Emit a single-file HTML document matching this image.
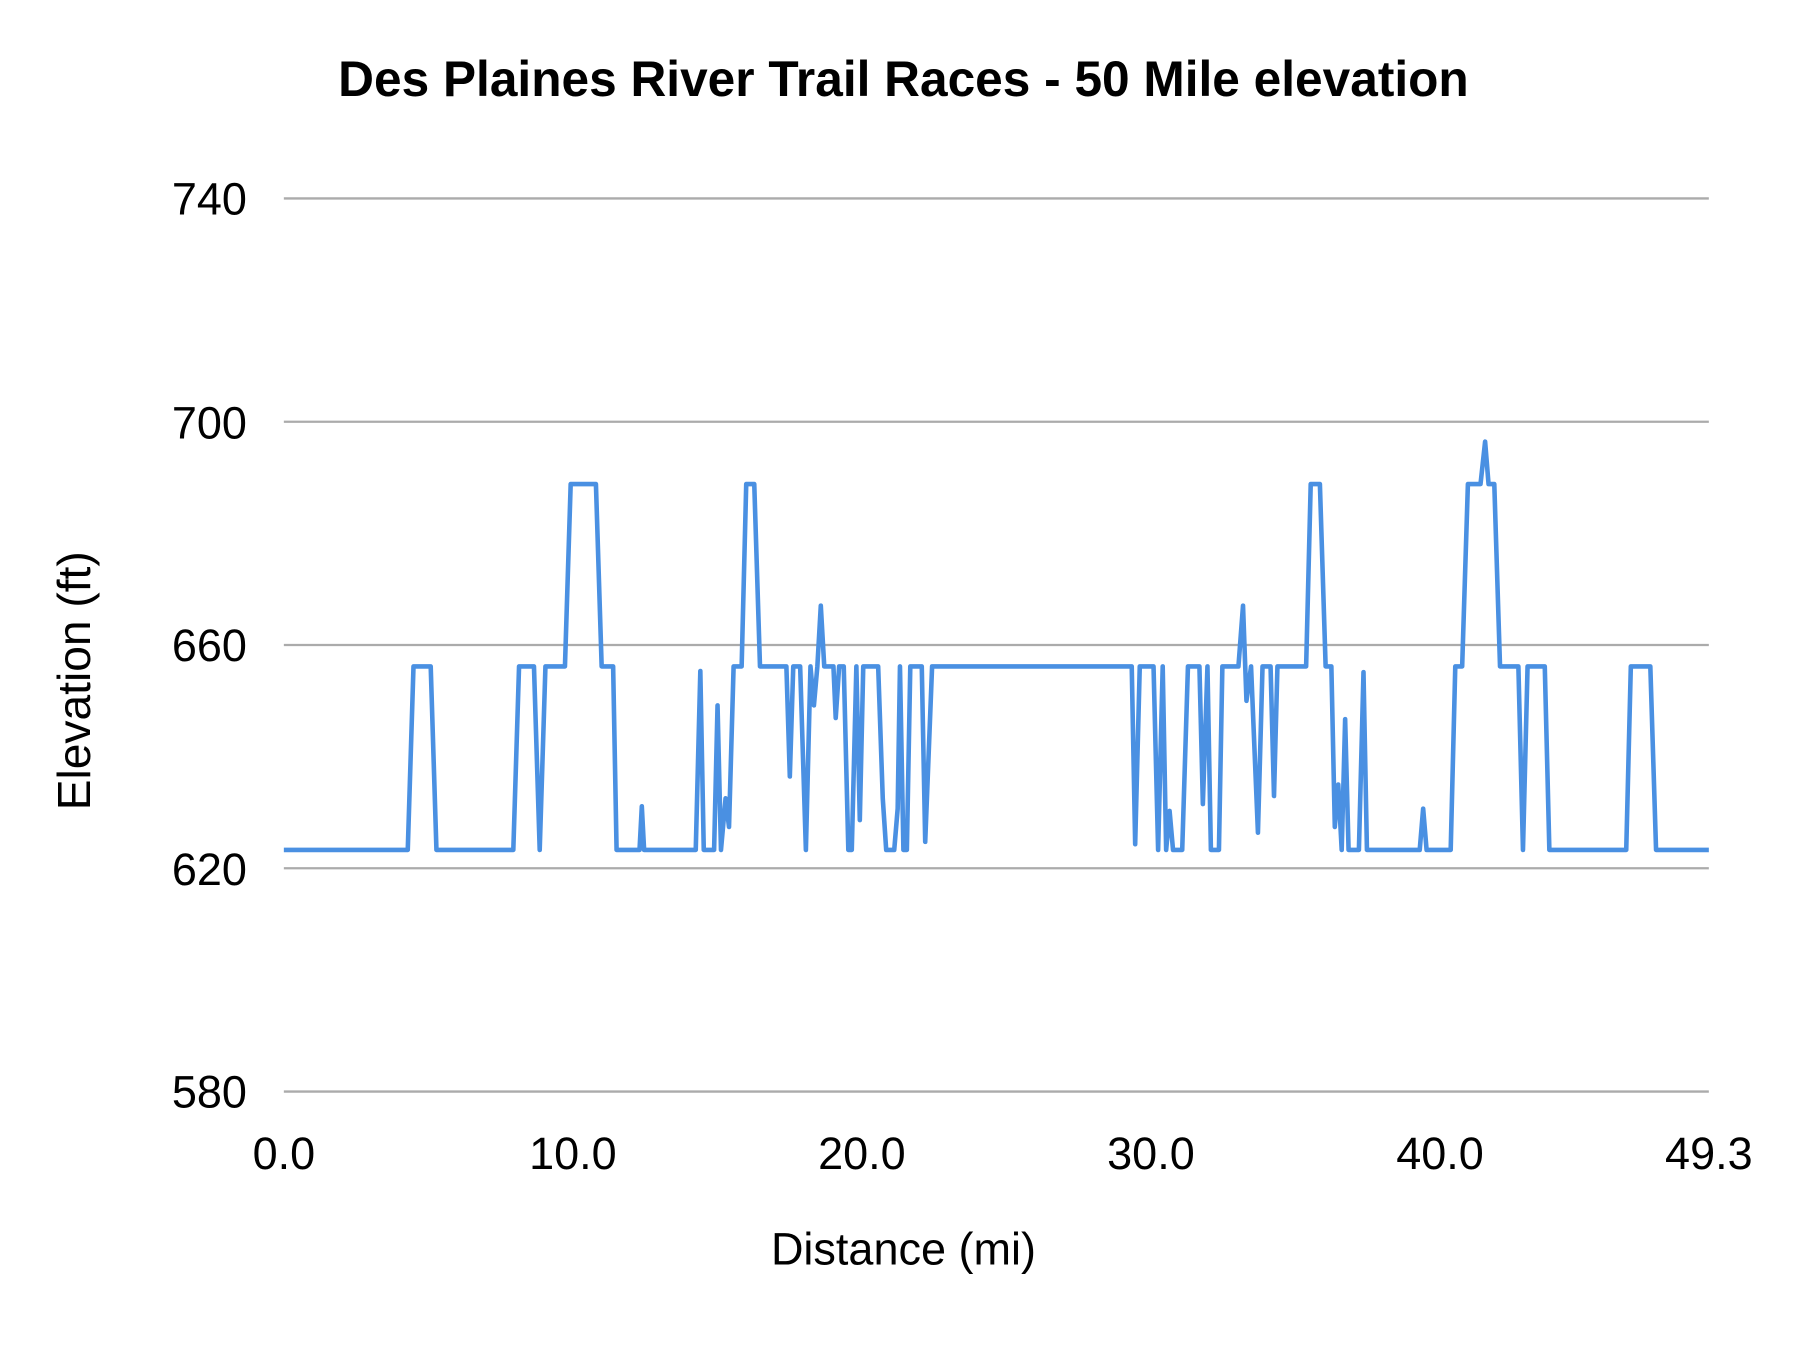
<!DOCTYPE html>
<html><head><style>
html,body{margin:0;padding:0;background:#fff;}
svg{display:block;}
text{font-family:"Liberation Sans",Roboto,sans-serif;}
</style></head><body>
<svg width="1800" height="1350" viewBox="0 0 1560 1170" xmlns="http://www.w3.org/2000/svg">
<rect width="1560" height="1170" fill="#fff"/>
<text x="783" y="83" text-anchor="middle" font-size="43" font-weight="bold" fill="#000">Des Plaines River Trail Races - 50 Mile elevation</text>
<g stroke="#ababab" stroke-width="2">
<line x1="246" y1="172" x2="1481" y2="172"/>
<line x1="246" y1="365.5" x2="1481" y2="365.5"/>
<line x1="246" y1="559" x2="1481" y2="559"/>
<line x1="246" y1="752.5" x2="1481" y2="752.5"/>
<line x1="246" y1="946" x2="1481" y2="946"/>
</g>
<g font-size="39" fill="#000" text-anchor="end">
<text x="214" y="186">740</text>
<text x="214" y="380">700</text>
<text x="214" y="573">660</text>
<text x="214" y="767">620</text>
<text x="214" y="960">580</text>
</g>
<g font-size="39" fill="#000" text-anchor="middle">
<text x="246" y="1013">0.0</text>
<text x="496.5" y="1013">10.0</text>
<text x="747" y="1013">20.0</text>
<text x="997.5" y="1013">30.0</text>
<text x="1248" y="1013">40.0</text>
<text x="1481" y="1013">49.3</text>
<text x="783" y="1096">Distance (mi)</text>
</g>
<text transform="translate(78,590) rotate(-90)" font-size="40" text-anchor="middle" fill="#000">Elevation (ft)</text>
<path transform="translate(0.393,1.03) scale(0.99436,0.994)" fill="none" stroke="#4a90e2" stroke-width="4" stroke-linejoin="round" d="M247,740 H355 L360,580 H375 L380,740 H447 L452,580 H465 L470,740 L475,580 H492 L497,421 H519 L524,580 H534 L537,740 H557 L559,702 L561,740 H606 L610,584 L613,740 H622 L625,614 L628,740 L632,695 L635,720 L639,580 H646 L650,421 H657 L662,580 H685 L688,676 L691,580 H697 L702,740 L706,580 L709,614 L712,580 L715,527 L718,580 H726 L728,625 L731,580 H735 L739,740 L742,740 L746,580 L749,714 L752,580 H765 L769,695 L772,740 H779 L782,704 L784,580 L787,740 L790,740 L793,580 H803 L806,733 L812,580 H986 L989,735 L993,580 H1005 L1009,740 L1013,580 L1016,740 L1019,706 L1022,740 H1030 L1035,580 H1045 L1048,700 L1052,580 L1055,740 H1062 L1065,580 H1079 L1083,527 L1086,610 L1090,580 L1096,725 L1100,580 H1107 L1110,693 L1113,580 H1138 L1142,421 H1150 L1155,580 H1160 L1163,720 L1166,683 L1169,740 L1172,626 L1175,740 H1184 L1188,585 L1191,740 H1237 L1240,704 L1243,740 H1264 L1268,580 H1274 L1279,421 H1290 L1294,384 L1297,421 H1302 L1307,580 H1323 L1327,740 L1331,580 H1346 L1350,740 H1417 L1421,580 H1438 L1443,740 H1489"/>
</svg>
</body></html>
